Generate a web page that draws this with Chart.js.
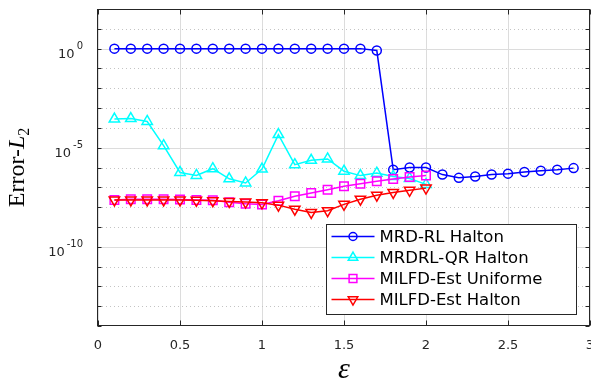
<!DOCTYPE html>
<html>
<head>
<meta charset="utf-8">
<script src="https://cdn.jsdelivr.net/npm/chart.js@4.4.1/dist/chart.umd.min.js"></script>
<style>
  html, body { margin: 0; padding: 0; background: #fff; }
  #wrap { width: 591px; height: 388px; }
</style>
</head>
<body>
<div id="wrap"><canvas id="myChart" width="591" height="388"></canvas></div>
<script>
// epsilon values
const epsLong = [0.1, 0.2, 0.3, 0.4, 0.5, 0.6, 0.7, 0.8, 0.9, 1.0, 1.1, 1.2, 1.3, 1.4, 1.5,
                 1.6, 1.7, 1.8, 1.9, 2.0, 2.1, 2.2, 2.3, 2.4, 2.5, 2.6, 2.7, 2.8, 2.9];
const epsShort = [0.1, 0.2, 0.3, 0.4, 0.5, 0.6, 0.7, 0.8, 0.9, 1.0, 1.1, 1.2, 1.3, 1.4, 1.5,
                  1.6, 1.7, 1.8, 1.9, 2.0];

// error values
const mrdRlHalton = [1, 1, 1, 1, 1, 1, 1, 1, 1, 1, 1, 1, 1, 1, 1, 1, 0.8,
                     7.8e-7, 1.0e-6, 1.0e-6, 4.4e-7, 3.0e-7, 3.5e-7, 4.4e-7, 4.9e-7,
                     5.9e-7, 6.9e-7, 7.8e-7, 9.3e-7];
const mrdrlQrHalton = [2.8e-4, 2.95e-4, 2.1e-4, 1.26e-5, 5.6e-7, 4.0e-7, 8.7e-7, 2.7e-7,
                       1.66e-7, 8.3e-7, 4.6e-5, 1.38e-6, 2.3e-6, 2.7e-6, 6.5e-7, 3.9e-7,
                       5.2e-7, 3.5e-7, 2.8e-7, 1.4e-7];
const milfdUniforme = [2.3e-8, 2.5e-8, 2.5e-8, 2.5e-8, 2.4e-8, 2.3e-8, 2.2e-8, 1.74e-8,
                       1.48e-8, 1.35e-8, 2.1e-8, 3.5e-8, 5.1e-8, 7.6e-8, 1.12e-7, 1.5e-7,
                       2.0e-7, 2.6e-7, 3.3e-7, 3.9e-7];
const milfdHalton = [2.3e-8, 2.3e-8, 2.3e-8, 2.3e-8, 2.3e-8, 2.2e-8, 2.1e-8, 1.95e-8,
                     1.8e-8, 1.66e-8, 1.26e-8, 7.9e-9, 5.4e-9, 6.6e-9, 1.38e-8, 2.5e-8,
                     4.0e-8, 5.5e-8, 7.1e-8, 9.1e-8];

const seriesNames = ['MRD-RL Halton', 'MRDRL-QR Halton', 'MILFD-Est Uniforme', 'MILFD-Est Halton'];

// x tick labels, y decades and the labelled ones
const xTickLabels = ['0', '0.5', '1', '1.5', '2', '2.5', '3'];
const yDecades = [1e2, 1e1, 1e0, 1e-1, 1e-2, 1e-3, 1e-4, 1e-5, 1e-6, 1e-7, 1e-8,
                  1e-9, 1e-10, 1e-11, 1e-12, 1e-13, 1e-14];
const yLabelValues = [1e0, 1e-5, 1e-10];
const yLabelExps = ['0', '-5', '-10'];

const SANS = '"DejaVu Sans", sans-serif';
const SERIF = '"Liberation Serif", "DejaVu Serif", serif';
const AXIS_COLOR = '#262626';

function pairs(xs, ys) {
    return ys.map((v, i) => ({ x: xs[i], y: v }));
}

const styles = [
    { color: '#0000ff', pointStyle: 'circle', radius: 4.5, rotation: 0 },
    { color: '#00ffff', pointStyle: 'triangle', radius: 6, rotation: 0 },
    { color: '#ff00ff', pointStyle: 'rect', radius: 6, rotation: 0 },
    { color: '#ff0000', pointStyle: 'triangle', radius: 6, rotation: 180 }
];
const seriesData = [
    pairs(epsLong, mrdRlHalton),
    pairs(epsShort, mrdrlQrHalton),
    pairs(epsShort, milfdUniforme),
    pairs(epsShort, milfdHalton)
];

// matlab-like box, grid, tick labels, y title and legend
const matlabPlugin = {
    id: 'matlabAxes',
    beforeDatasetsDraw(chart) {
        const { ctx, chartArea: a, scales: { y } } = chart;
        ctx.save();
        ctx.lineWidth = 1;
        yDecades.forEach(v => {
            if (v >= 1e2 || v <= 1e-14) return;
            const py = Math.round(y.getPixelForValue(v)) + 0.5;
            const major = yLabelValues.includes(v);
            ctx.strokeStyle = major ? '#dcdcdc' : '#c4c4c4';
            ctx.setLineDash(major ? [] : [1, 3]);
            ctx.beginPath();
            ctx.moveTo(a.left, py);
            ctx.lineTo(a.right, py);
            ctx.stroke();
        });
        ctx.restore();
    },
    afterDraw(chart) {
        const { ctx, chartArea: a, scales: { x, y } } = chart;
        ctx.save();
        // box
        ctx.strokeStyle = AXIS_COLOR;
        ctx.lineWidth = 1;
        ctx.setLineDash([]);
        const L = Math.round(a.left) - 0.5, R = Math.round(a.right) - 0.5;
        const T = Math.round(a.top) + 0.5, B = Math.round(a.bottom) - 0.5;
        ctx.strokeRect(L, T, R - L, B - T);
        // inward ticks
        ctx.beginPath();
        yDecades.forEach(v => {
            const py = Math.round(y.getPixelForValue(v)) + 0.5;
            ctx.moveTo(L, py); ctx.lineTo(L + 4, py);
            ctx.moveTo(R, py); ctx.lineTo(R - 4, py);
        });
        x.ticks.forEach(t => {
            const px = Math.round(x.getPixelForValue(t.value)) + 0.5;
            ctx.moveTo(px, B); ctx.lineTo(px, B - 5);
            ctx.moveTo(px, T); ctx.lineTo(px, T + 5);
        });
        ctx.stroke();

        // y tick labels 10^e
        ctx.fillStyle = AXIS_COLOR;
        ctx.textBaseline = 'alphabetic';
        ctx.textAlign = 'left';
        yLabelValues.forEach((v, i) => {
            const py = y.getPixelForValue(v);
            ctx.font = '13px ' + SANS;
            const wBase = ctx.measureText('10').width;
            ctx.font = '10px ' + SANS;
            const wExp = ctx.measureText(yLabelExps[i]).width;
            const right = a.left - 15;
            const x0 = right - wExp - 2 - wBase;
            ctx.font = '13px ' + SANS;
            ctx.fillText('10', x0, py + 9.5);
            ctx.font = '10px ' + SANS;
            ctx.fillText(yLabelExps[i], x0 + wBase + 2, py + 0.5);
        });

        // y title: Error-L_2
        ctx.save();
        ctx.translate(24, (a.top + a.bottom) / 2);
        ctx.rotate(-Math.PI / 2);
        ctx.fillStyle = '#000';
        ctx.font = '24px ' + SERIF;
        const w1 = ctx.measureText('Error-').width;
        ctx.font = 'italic 24px ' + SERIF;
        const w2 = ctx.measureText('L').width;
        ctx.font = '16px ' + SERIF;
        const w3 = ctx.measureText('2').width;
        let tx = -(w1 + w2 + w3) / 2;
        ctx.font = '24px ' + SERIF;
        ctx.fillText('Error-', tx, 0);
        tx += w1;
        ctx.font = 'italic 24px ' + SERIF;
        ctx.fillText('L', tx, 0);
        tx += w2;
        ctx.font = '16px ' + SERIF;
        ctx.fillText('2', tx, 5);
        ctx.restore();

        // legend
        const boxR = Math.round(a.right) - 13.5, boxB = Math.round(a.bottom) - 11.5;
        const boxL = boxR - 250, boxT = boxB - 90;
        ctx.fillStyle = '#fff';
        ctx.fillRect(boxL, boxT, boxR - boxL, boxB - boxT);
        ctx.strokeStyle = AXIS_COLOR;
        ctx.lineWidth = 1;
        ctx.strokeRect(boxL, boxT, boxR - boxL, boxB - boxT);
        seriesNames.forEach((name, i) => {
            const st = styles[i];
            const ry = boxT + 12 + i * 21;
            ctx.strokeStyle = st.color;
            ctx.lineWidth = 1.5;
            ctx.beginPath();
            ctx.moveTo(boxL + 5, ry);
            ctx.lineTo(boxL + 48, ry);
            ctx.stroke();
            ctx.fillStyle = 'rgba(0,0,0,0)';
            Chart.helpers.drawPoint(ctx, {
                pointStyle: st.pointStyle, radius: st.radius - 0.5,
                rotation: st.rotation, borderWidth: 1.5
            }, boxL + 26.5, ry);
            ctx.fillStyle = '#000';
            ctx.font = '16.5px ' + SANS;
            ctx.textBaseline = 'middle';
            ctx.fillText(name, boxL + 53, ry + 1);
        });
        ctx.restore();
    }
};

const data = {
    datasets: seriesNames.map((name, i) => ({
        label: name,
        data: seriesData[i],
        borderColor: styles[i].color,
        backgroundColor: 'rgba(0,0,0,0)',
        pointBorderColor: styles[i].color,
        pointBackgroundColor: 'rgba(0,0,0,0)',
        pointStyle: styles[i].pointStyle,
        pointRadius: styles[i].radius,
        pointRotation: styles[i].rotation,
        pointBorderWidth: 1.5,
        borderWidth: 1.5,
        tension: 0,
        order: 3 - i
    }))
};

const config = {
    type: 'line',
    data: data,
    options: {
        responsive: false,
        animation: false,
        layout: { autoPadding: false, padding: { top: 9, right: 1, left: 0, bottom: 0 } },
        plugins: {
            legend: { display: false },
            tooltip: { enabled: false }
        },
        scales: {
            x: {
                type: 'linear',
                min: 0,
                max: 3,
                ticks: {
                    stepSize: 0.5,
                    color: AXIS_COLOR,
                    font: { family: SANS, size: 13 },
                    padding: 12,
                    maxRotation: 0,
                    callback: (v, i) => xTickLabels[i]
                },
                grid: { color: '#dcdcdc', drawTicks: false },
                border: { display: false },
                title: {
                    display: true,
                    text: 'ε',
                    color: '#000',
                    font: { family: SERIF, size: 30, style: 'italic' },
                    padding: { top: 0, bottom: 0 }
                },
                afterFit: s => {
                    s.height = 62;
                    s.paddingLeft = 0;
                    s.paddingRight = 0;
                }
            },
            y: {
                type: 'logarithmic',
                min: 1e-14,
                max: 1e2,
                ticks: { display: false },
                grid: { display: false },
                border: { display: false },
                afterBuildTicks: s => { s.ticks = yDecades.map(v => ({ value: v })); },
                afterFit: s => {
                    s.width = 98;
                    s.paddingTop = 0;
                    s.paddingBottom = 0;
                }
            }
        }
    },
    plugins: [matlabPlugin]
};

const myChart = new Chart(document.getElementById('myChart'), config);
</script>
</body>
</html>
